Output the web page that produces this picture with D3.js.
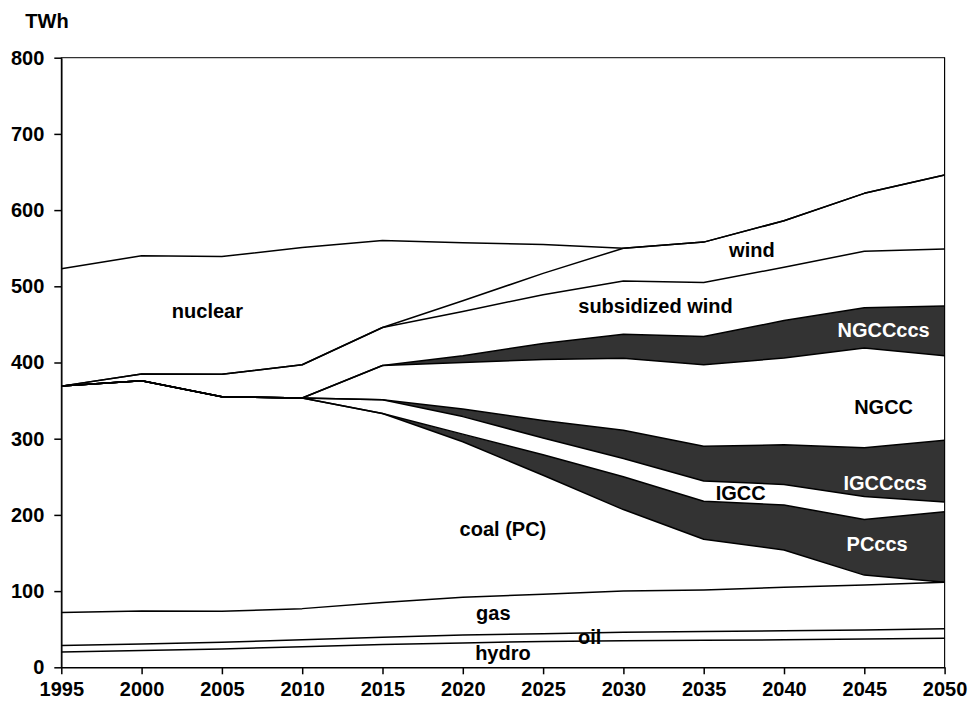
<!DOCTYPE html>
<html>
<head>
<meta charset="utf-8">
<script src="https://cdn.jsdelivr.net/npm/d3@7"></script>
<style>
  html, body { margin: 0; padding: 0; background: #fff; }
  svg { display: block; }
  text { font-family: Arial, "Liberation Sans", sans-serif; font-weight: bold; }
</style>
</head>
<body>
<svg id="chart" width="972" height="709"></svg>
<script>
// Electricity generation by technology, TWh (stacked from the bottom up)
const years = [1995, 2000, 2005, 2010, 2015, 2020, 2025, 2030, 2035, 2040, 2045, 2050];

const hydro          = [20, 22, 24, 27, 30, 32, 34, 35, 35.5, 36, 37, 38];
const oil            = [8.5, 8.5, 9, 9, 9.5, 10.5, 10, 11, 11.5, 12, 12, 12.5];
const gas            = [43.5, 43.5, 40.5, 41, 45.5, 49.5, 52, 54, 54.5, 57, 59, 61];
const coalPC         = [297, 302, 281.5, 276.5, 248, 204, 156, 107, 66.5, 49, 13, 0];
const pcCcs          = [0, 0, 0, 0, 0, 10, 27, 43, 50, 59, 73, 92.5];
const igcc           = [0, 0, 0, 0, 18, 23, 22, 24, 26.5, 27, 30, 13];
const igccCcs        = [0, 0, 0, 0, 0, 10, 23, 37, 45.5, 52, 64, 81];
const ngcc           = [0, 0, 0, 0, 45, 61, 80, 94.5, 107, 114, 131, 111];
const ngccCcs        = [0, 0, 0, 0, 0, 9, 21, 31.5, 37, 49, 53, 65];
const subsidizedWind = [0, 9, 29.5, 43.5, 50, 58, 64, 70, 71, 70, 74, 75];
const wind           = [0, 0, 0, 0, 0, 14, 28, 43, 53, 61, 76, 97];
const nuclear        = [154, 155, 154.5, 154, 114, 76, 38, 0, 0, 0, 0, 0];

const seriesKeys = ["hydro", "oil", "gas", "coal (PC)", "PCccs", "IGCC", "IGCCccs",
                    "NGCC", "NGCCccs", "subsidized wind", "wind", "nuclear"];
const seriesValues = [hydro, oil, gas, coalPC, pcCcs, igcc, igccCcs,
                      ngcc, ngccCcs, subsidizedWind, wind, nuclear];
const ccsSeries = new Set(["PCccs", "IGCCccs", "NGCCccs"]);

const yTicks = [0, 100, 200, 300, 400, 500, 600, 700, 800];
const xTicks = years;

// Build row table for d3.stack
const table = years.map((yr, i) => {
  const row = { year: yr };
  seriesKeys.forEach((k, j) => { row[k] = seriesValues[j][i]; });
  return row;
});

const svg = d3.select("#chart");
const plotLeft = 61.3, plotRight = 944.6, plotTop = 57.7, plotBottom = 667.3;

const x = d3.scaleLinear().domain([1995, 2050]).range([plotLeft, plotRight]);
const y = d3.scaleLinear().domain([0, 800]).range([plotBottom, plotTop]);

const stacked = d3.stack().keys(seriesKeys)(table);

const area = d3.area()
  .x(d => x(d.data.year))
  .y0(d => y(d[0]))
  .y1(d => y(d[1]));

const DARK = "#333333";

// plot frame
svg.append("rect")
  .attr("x", plotLeft).attr("y", plotTop)
  .attr("width", plotRight - plotLeft).attr("height", plotBottom - plotTop)
  .attr("fill", "#fff").attr("stroke", "#000").attr("stroke-width", 1);

// filled layers
svg.append("g").selectAll("path")
  .data(stacked)
  .join("path")
  .attr("d", area)
  .attr("fill", d => ccsSeries.has(d.key) ? DARK : "#fff")
  .attr("stroke", "none");

// layer boundary lines
const topLine = d3.line()
  .x(d => x(d.data.year))
  .y(d => y(d[1]));
svg.append("g").selectAll("path")
  .data(stacked)
  .join("path")
  .attr("d", topLine)
  .attr("fill", "none")
  .attr("stroke", "#000")
  .attr("stroke-width", 1.5)
  .attr("stroke-linejoin", "round");

// right frame edge drawn again over the fills
svg.append("line")
  .attr("x1", plotRight).attr("x2", plotRight).attr("y1", plotTop).attr("y2", plotBottom)
  .attr("stroke", "#000").attr("stroke-width", 1);

// axes
const yAxis = d3.axisLeft(y).tickValues(yTicks).tickSize(7).tickSizeOuter(0).tickPadding(10);
const gy = svg.append("g").attr("transform", `translate(${plotLeft},0)`).call(yAxis);
gy.selectAll("text").attr("font-size", 20).attr("fill", "#000")
  .style("font-family", "Arial, 'Liberation Sans', sans-serif").style("font-weight", "bold");
gy.selectAll("line, path").attr("stroke", "#000").attr("stroke-width", 1.5);

const xAxis = d3.axisBottom(x).tickValues(xTicks).tickFormat(d3.format("d"))
  .tickSize(7).tickSizeOuter(0).tickPadding(8);
const gx = svg.append("g").attr("transform", `translate(0,${plotBottom})`).call(xAxis);
gx.selectAll("text").attr("font-size", 20).attr("fill", "#000")
  .style("font-family", "Arial, 'Liberation Sans', sans-serif").style("font-weight", "bold");
gx.selectAll("line, path").attr("stroke", "#000").attr("stroke-width", 1.5);

// unit label
svg.append("text")
  .attr("x", 47).attr("y", 28)
  .attr("text-anchor", "middle")
  .attr("font-size", 20)
  .text("TWh");

// area labels, anchored in data coordinates
const areaLabels = [
  { text: "nuclear",         year: 2004.1, value: 458,   color: "#000" },
  { text: "wind",            year: 2038.0, value: 539,   color: "#000" },
  { text: "subsidized wind", year: 2032.0, value: 465,   color: "#000" },
  { text: "NGCCccs",         year: 2046.2, value: 434,   color: "#fff" },
  { text: "NGCC",            year: 2046.2, value: 333,   color: "#000" },
  { text: "IGCCccs",         year: 2046.3, value: 233,   color: "#fff" },
  { text: "IGCC",            year: 2037.3, value: 219.6, color: "#000" },
  { text: "PCccs",           year: 2045.8, value: 153,   color: "#fff" },
  { text: "coal (PC)",       year: 2022.5, value: 172,   color: "#000" },
  { text: "gas",             year: 2021.9, value: 62,    color: "#000" },
  { text: "oil",             year: 2027.9, value: 30.6,  color: "#000" },
  { text: "hydro",           year: 2022.5, value: 9.6,   color: "#000" }
];

svg.append("g").selectAll("text")
  .data(areaLabels)
  .join("text")
  .attr("x", d => x(d.year))
  .attr("y", d => y(d.value))
  .attr("text-anchor", "middle")
  .attr("font-size", 20)
  .attr("fill", d => d.color)
  .text(d => d.text);
</script>
</body>
</html>
